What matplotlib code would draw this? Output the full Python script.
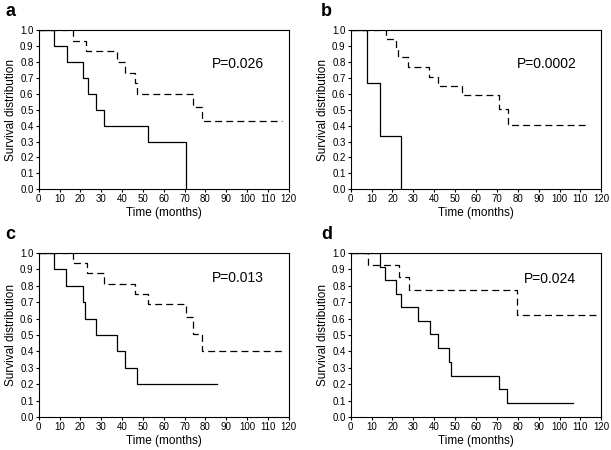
# Kaplan-Meier survival curves, four panels (a-d)

import matplotlib
matplotlib.use("Agg")
import matplotlib.pyplot as plt

plt.rcParams['font.family'] = ['Liberation Sans', 'DejaVu Sans']
plt.rcParams['lines.scale_dashes'] = False

# SECTION 1 - DATA (step times in months and survival after each step)
# -----------------------------------------------------------

# Panel a
a_solid_t = [7.5, 13.5, 21.5, 23.5, 27.5, 31.5, 52.5, 70.6]
a_solid_s = [0.9, 0.8, 0.7, 0.6, 0.5, 0.4, 0.3, 0.0]
a_solid_end = 70.6
a_dash_t = [16.5, 22.5, 37.5, 41.5, 46.3, 47.2, 74.3, 78.5]
a_dash_s = [0.933, 0.867, 0.80, 0.733, 0.667, 0.60, 0.517, 0.431]
a_dash_end = 117

# Panel b
b_solid_t = [7.8, 13.9, 24.2]
b_solid_s = [0.667, 0.333, 0.0]
b_solid_end = 24.2
b_dash_t = [16.8, 21.7, 22.8, 27.6, 37.6, 41.6, 53.1, 71.2, 75.3]
b_dash_s = [0.944, 0.889, 0.828, 0.766, 0.708, 0.649, 0.59, 0.506, 0.406]
b_dash_end = 113.5

# Panel c
c_solid_t = [7.2, 13.2, 21.2, 22.3, 27.6, 37.5, 41.5, 47.1]
c_solid_s = [0.9, 0.8, 0.7, 0.6, 0.5, 0.4, 0.3, 0.2]
c_solid_end = 85.8
c_dash_t = [16.3, 23.4, 31.4, 46.3, 52.6, 70.5, 74.3, 78.5]
c_dash_s = [0.94, 0.876, 0.813, 0.753, 0.69, 0.61, 0.505, 0.405]
c_dash_end = 117

# Panel d
d_solid_t = [13.9, 16.6, 21.7, 24.1, 32.1, 38.0, 42.0, 47.2, 48.0, 70.8, 75.0]
d_solid_s = [0.917, 0.836, 0.753, 0.671, 0.586, 0.505, 0.42, 0.338, 0.253, 0.171, 0.086]
d_solid_end = 106.3
d_dash_t = [8.1, 23.0, 28.0, 79.6]
d_dash_s = [0.927, 0.851, 0.773, 0.62]
d_dash_end = 118

panel_letters = ['a', 'b', 'c', 'd']
p_values = ['P=0.026', 'P=0.0002', 'P=0.013', 'P=0.024']
p_pos = [(95.8, 0.785), (93.8, 0.785), (95.8, 0.846), (95.4, 0.841)]

x_ticks = list(range(0, 121, 10))
y_ticks = [i / 10 for i in range(11)]


# SECTION 2 - PLOTTING
# -----------------------------------------------------------

def km_step(ax, times, surv, end, style):
    """Draw one survival curve as a post-step line"""
    t = [0] + times + [end]
    s = [1.0] + surv + [surv[-1]]
    ax.step(t, s, where='post', color='black', lw=0.9, linestyle=style)


fig = plt.figure(figsize=(6.11, 4.5), dpi=100)

ax_pos = [
    [0.0633, 0.5793, 0.4092, 0.354],
    [0.574, 0.5793, 0.4101, 0.354],
    [0.0633, 0.0733, 0.4092, 0.3644],
    [0.574, 0.0733, 0.4101, 0.3644],
]
letter_dx = [-0.054, -0.049, -0.054, -0.049]

curves = [
    (a_solid_t, a_solid_s, a_solid_end, a_dash_t, a_dash_s, a_dash_end),
    (b_solid_t, b_solid_s, b_solid_end, b_dash_t, b_dash_s, b_dash_end),
    (c_solid_t, c_solid_s, c_solid_end, c_dash_t, c_dash_s, c_dash_end),
    (d_solid_t, d_solid_s, d_solid_end, d_dash_t, d_dash_s, d_dash_end),
]

for i in range(4):
    ax = fig.add_axes(ax_pos[i])
    st, ss, se, dt, ds, de = curves[i]
    km_step(ax, dt, ds, de, (0, (5, 3)))
    km_step(ax, st, ss, se, '-')

    ax.set_xlim(0, 120)
    ax.set_ylim(0, 1.0)
    ax.set_xticks(x_ticks)
    ax.set_yticks(y_ticks)
    ax.set_yticklabels(["%.1f" % v for v in y_ticks])
    ax.tick_params(direction='out', length=2.2, width=0.8, labelsize=7, pad=1.5)
    for sp in ax.spines.values():
        sp.set_linewidth(0.8)
    ax.set_xlabel("Time (months)", fontsize=8.5, labelpad=2)
    ax.set_ylabel("Survival distribution", fontsize=8.5, labelpad=2)

    ax.text(p_pos[i][0], p_pos[i][1], p_values[i], fontsize=10,
            ha='center', va='center')

    # panel letter above the axes, top-left
    pos = ax.get_position()
    fig.text(pos.x0 + letter_dx[i], pos.y1 + 0.022, panel_letters[i],
             fontsize=13, fontweight='bold', ha='left', va='bottom')

fig.savefig("out.png", dpi=100)
